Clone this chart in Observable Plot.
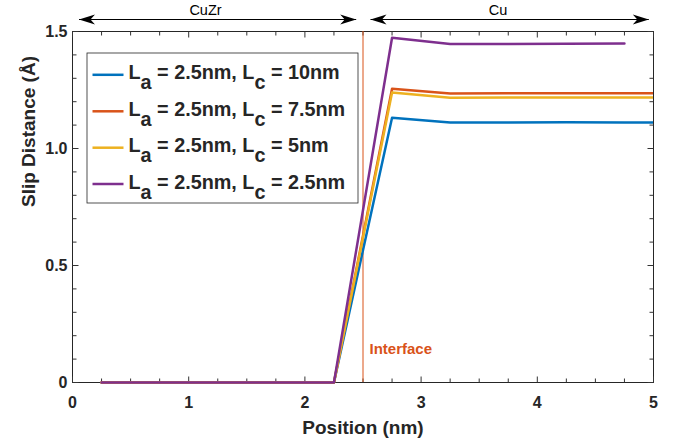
<!DOCTYPE html>
<html>
<head>
<meta charset="utf-8">
<script src="https://cdn.jsdelivr.net/npm/d3@7"></script>
<script src="https://cdn.jsdelivr.net/npm/@observablehq/plot@0.6"></script>
<style>
  html, body { margin: 0; padding: 0; background: #fff; }
  #chart { width: 680px; height: 441px; }
</style>
</head>
<body>
<div id="chart"></div>
<script>
// ---------- data ----------
const positions = [0.25, 0.75, 1.25, 1.75, 2.25, 2.75, 3.25, 3.75, 4.25, 4.75, 5.25];
const slipLc10  = [0, 0, 0, 0, 0, 1.131, 1.111, 1.111, 1.112, 1.111, 1.111];
const slipLc75  = [0, 0, 0, 0, 0, 1.255, 1.235, 1.236, 1.236, 1.236, 1.236];
const slipLc5   = [0, 0, 0, 0, 0, 1.239, 1.217, 1.218, 1.218, 1.218, 1.218];
const slipLc25  = [0, 0, 0, 0, 0, 1.473, 1.447, 1.447, 1.448, 1.449];
const seriesLabels = [
  "L_a = 2.5nm, L_c = 10nm",
  "L_a = 2.5nm, L_c = 7.5nm",
  "L_a = 2.5nm, L_c = 5nm",
  "L_a = 2.5nm, L_c = 2.5nm"
];
const seriesValues = [slipLc10, slipLc75, slipLc5, slipLc25];
const seriesColors = ["#0072BD", "#D95319", "#EDB120", "#7E2F8E"];
const xTicks = [0, 1, 2, 3, 4, 5];
const yTicks = [0, 0.5, 1.0, 1.5];
const yTickLabels = ["0", "0.5", "1.0", "1.5"];
const interfacePos = 2.5;
const regionLabels = ["CuZr", "Cu"];

// ---------- layout ----------
const W = 680, H = 441, ML = 72, MR = 27, MT = 31, MB = 59;
const XMAX = 5, YMAX = 1.5;
const ix = px => (px - ML) / (W - ML - MR) * XMAX;   // pixel -> x data
const iy = py => (H - MB - py) / (H - MT - MB) * YMAX; // pixel -> y data
const FONT = "'Liberation Sans', Arial, Helvetica, sans-serif";
const INK = "#262626";

const rows = [];
seriesValues.forEach((vals, s) => vals.forEach((v, i) => rows.push({x: positions[i], y: v, series: seriesLabels[s]})));

const xMinor = d3.range(0, 5.001, 0.25).filter(v => Math.abs(v - Math.round(v)) > 1e-6);
const yMinor = d3.range(0, 1.5001, 0.1).filter(v => Math.abs(v * 2 - Math.round(v * 2)) > 1e-6);
const MAJ = 6, MIN = 4; // tick lengths, px
const xLenMaj = iy(H - MB - MAJ), xLenMin = iy(H - MB - MIN);
const yLenMaj = ix(ML + MAJ), yLenMin = ix(ML + MIN);

// tick segments, built from the tick value arrays
const tickSegs = [
  ...xTicks.flatMap(v => [{x1: v, x2: v, y1: 0, y2: xLenMaj}, {x1: v, x2: v, y1: YMAX, y2: YMAX - xLenMaj}]),
  ...xMinor.flatMap(v => [{x1: v, x2: v, y1: 0, y2: xLenMin}, {x1: v, x2: v, y1: YMAX, y2: YMAX - xLenMin}]),
  ...yTicks.flatMap(v => [{x1: 0, x2: yLenMaj, y1: v, y2: v}, {x1: XMAX, x2: XMAX - yLenMaj, y1: v, y2: v}]),
  ...yMinor.flatMap(v => [{x1: 0, x2: yLenMin, y1: v, y2: v}, {x1: XMAX, x2: XMAX - yLenMin, y1: v, y2: v}])
];

// legend geometry (pixels)
const legendRowsPx = [74.3, 110.8, 147.2, 183.5];
const legendRows = seriesLabels.map((lab, i) => ({
  label: lab, x1: ix(92), x2: ix(123), xt: ix(128), y: iy(legendRowsPx[i]), yt: iy(legendRowsPx[i] - 1.8)
}));

// region arrows (pixels)
const arrowY = iy(19);
const regions = [
  {label: regionLabels[0], a: ix(78.5), b: ix(355.7), c: ix(205), ty: iy(10)},
  {label: regionLabels[1], a: ix(370), b: ix(648.3), c: ix(497.5), ty: iy(10)}
];
const heads = regions.flatMap(r => [{x: r.a, rot: 180}, {x: r.b, rot: 0}]);
const arrowHead = {
  draw(ctx) {
    const L = 16, w = 5, b = 4.5;
    ctx.moveTo(0, 0);
    ctx.lineTo(-L, -w);
    ctx.lineTo(-L + b, 0);
    ctx.lineTo(-L, w);
    ctx.closePath();
  }
};

const chart = Plot.plot({
  width: W, height: H,
  marginLeft: ML, marginRight: MR, marginTop: MT, marginBottom: MB,
  style: {fontFamily: FONT, color: INK, background: "#fff", overflow: "visible"},
  x: {domain: [0, XMAX], axis: null},
  y: {domain: [0, YMAX], axis: null},
  color: {domain: seriesLabels, range: seriesColors},
  marks: [
    // frame and inward ticks
    Plot.frame({stroke: INK, strokeWidth: 1, fill: "none"}),
    Plot.link(tickSegs, {x1: "x1", x2: "x2", y1: "y1", y2: "y2", stroke: "#333333", strokeWidth: 1}),
    // interface line
    Plot.ruleX([interfacePos], {stroke: "#D95319", strokeWidth: 1}),
    // data lines
    Plot.line(rows, {x: "x", y: "y", z: "series", stroke: "series", strokeWidth: 2.5, strokeLinejoin: "round", clip: true}),
    // tick labels
    Plot.axisX({anchor: "bottom", ticks: xTicks, tickSize: 0, tickPadding: 14, tickFormat: d3.format("d"), label: null, fontSize: 16, fontWeight: "bold", fill: INK}),
    Plot.axisY({anchor: "left", ticks: yTicks, tickSize: 0, tickPadding: 5, tickFormat: (d, i) => yTickLabels[i], label: null, fontSize: 16, fontWeight: "bold", fill: INK}),
    // axis titles
    Plot.text(["Position (nm)"], {frameAnchor: "bottom", dy: 38, lineAnchor: "top", text: d => d, fontSize: 19, fontWeight: "bold", fill: INK}),
    Plot.text(["Slip Distance (Å)"], {frameAnchor: "left", dx: -44, rotate: -90, text: d => d, fontSize: 19, fontWeight: "bold", fill: INK}),
    // interface label
    Plot.text(["Interface"], {x: ix(369), y: iy(348.5), text: d => d, textAnchor: "start", fontSize: 15, fontWeight: "bold", fill: "#D95319"}),
    // region arrows
    Plot.link(regions, {x1: "a", x2: "b", y1: arrowY, y2: arrowY, stroke: "#000", strokeWidth: 1}),
    Plot.dot(heads, {x: "x", y: arrowY, symbol: arrowHead, r: 5, rotate: "rot", fill: "#000", stroke: null}),
    Plot.text(regions, {x: "c", y: "ty", text: "label", fontSize: 14.5, fill: "#000"}),
    // legend
    Plot.rect([0], {x1: ix(87), x2: ix(358), y1: iy(53), y2: iy(203), fill: "#fff", stroke: INK, strokeWidth: 0.8}),
    Plot.link(legendRows, {x1: "x1", x2: "x2", y1: "y", y2: "y", stroke: "label", strokeWidth: 2.5}),
    Plot.text(legendRows, {x: "xt", y: "yt", text: "label", textAnchor: "start", fontSize: 19.8, fontWeight: "bold", fill: INK})
  ]
});

// let clipped lines keep their full stroke width at top/bottom (clip only horizontally)
chart.querySelectorAll("clipPath rect").forEach(r => {
  const y = +r.getAttribute("y"), h = +r.getAttribute("height");
  r.setAttribute("y", y - 10);
  r.setAttribute("height", h + 20);
});

// render subscripts ("L_a" -> L with subscript a)
const NS = "http://www.w3.org/2000/svg";
chart.querySelectorAll("text").forEach(t => {
  const s = t.textContent;
  if (!s.includes("_")) return;
  t.textContent = "";
  const parts = s.split(/_(.)/);
  let shifted = 0;
  parts.forEach((p, i) => {
    const ts = document.createElementNS(NS, "tspan");
    ts.textContent = p;
    if (i % 2 === 1) { ts.setAttribute("dy", 10); shifted = 10; }
    else if (shifted) { ts.setAttribute("dy", -shifted); shifted = 0; }
    t.appendChild(ts);
  });
  t.style.whiteSpace = "pre";
});

document.getElementById("chart").appendChild(chart);
</script>
</body>
</html>
